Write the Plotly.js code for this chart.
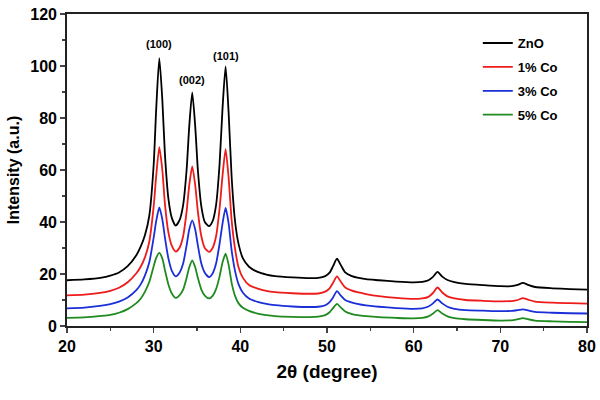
<!DOCTYPE html>
<html>
<head>
<meta charset="utf-8">
<script src="https://cdn.plot.ly/plotly-3.0.1.min.js"></script>
<style>
  body { margin: 0; background: #fff; }
  #chart { width: 600px; height: 400px; }
</style>
</head>
<body>
<div id="chart"></div>
<script>
// 2theta positions (denser around the peaks)
var twoTheta = [20, 22, 24, 25, 26, 27, 28, 28.5, 29, 29.5, 30, 30.3, 30.65, 31, 31.3, 31.7, 32.1, 32.55,
    33, 33.4, 33.8, 34.1, 34.45, 34.8, 35.1, 35.5, 35.9, 36.4, 36.8, 37.2, 37.6, 37.95, 38.3, 38.65,
    39, 39.4, 39.8, 40.3, 41, 42, 43, 44, 46, 48, 49, 49.8, 50.3, 50.7, 51.15, 51.6, 52.1, 52.8,
    53.5, 54.5, 56, 58, 60, 61, 61.7, 62.2, 62.75, 63.3, 63.9, 64.7, 66, 68, 70, 71.3, 72, 72.6,
    73.2, 74, 76, 78, 80];

var zno = [17.6, 17.9, 18.6, 19.4, 20.6, 23.0, 27.2, 30.5, 35.0, 42.5, 62, 84, 103, 87, 66, 49, 41.5, 38.6,
    40.8, 46.5, 60, 76.5, 89.8, 76.5, 60, 46, 40, 38.4, 40.3, 46.5, 62, 84, 99.8, 82,
    57, 40, 31.5, 26, 22.8, 20.8, 19.8, 19.2, 18.7, 18.4, 18.5, 19.2, 20.5, 23, 25.9, 23.4, 20.6, 19.3,
    18.6, 18.0, 17.6, 17.1, 16.8, 17.0, 17.6, 18.8, 20.8, 19.0, 17.7, 16.9, 16.2, 15.7, 15.3, 15.3, 15.8, 16.6,
    15.8, 15.0, 14.5, 14.2, 14.0];

var co1 = [11.8, 12.1, 12.8, 13.5, 14.7, 16.8, 20.3, 22.8, 26.5, 32.5, 46, 58, 68.8, 60, 47, 36, 30.8, 28.6,
    30.2, 34.5, 44, 54, 61.4, 54, 44, 34.5, 30, 28.5, 30, 34.5, 45, 58, 68.0, 57,
    40.5, 29.5, 22.5, 18.5, 15.8, 14.4, 13.5, 13.0, 12.6, 12.4, 12.5, 13.2, 14.5, 16.6, 19.1, 17.0, 14.8, 13.7,
    13.0, 12.3, 11.5, 10.8, 10.4, 10.6, 11.2, 12.6, 14.8, 12.9, 11.4, 10.6, 10.0, 9.7, 9.5, 9.6, 10.0, 10.7,
    10.1, 9.4, 9.0, 8.8, 8.6];

var co3 = [6.8, 7.1, 7.8, 8.4, 9.4, 11.0, 13.8, 16.0, 19.5, 24.5, 34, 40.5, 45.6, 41, 34, 26, 21.2, 19.1,
    20.6, 24, 31, 37, 40.6, 37, 31, 24, 20.5, 18.8, 20.2, 24, 31.5, 39.5, 45.4, 39.5,
    29, 21, 16, 12.8, 10.6, 9.3, 8.5, 8.0, 7.5, 7.3, 7.4, 8.0, 9.2, 11.0, 13.4, 11.7, 10.0, 9.1,
    8.5, 7.9, 7.4, 6.9, 6.6, 6.8, 7.5, 8.6, 10.2, 8.7, 7.4, 6.6, 6.1, 5.9, 5.7, 5.8, 6.1, 6.4,
    6.0, 5.4, 5.1, 4.9, 4.8];

var co5 = [3.1, 3.3, 3.9, 4.3, 5.1, 6.5, 8.8, 10.5, 13.2, 17, 23, 26.3, 28.1, 26, 21.5, 16, 12.5, 10.8,
    11.9, 14, 18.5, 22.5, 25.2, 22.5, 18.5, 14, 11.7, 10.6, 11.6, 14.2, 19, 24.5, 27.8, 23.5,
    16.5, 11.5, 8.7, 7.0, 5.8, 4.8, 4.2, 3.8, 3.5, 3.4, 3.6, 4.2, 5.3, 6.9, 8.5, 7.1, 5.6, 4.7,
    4.2, 3.8, 3.4, 3.1, 2.9, 3.1, 3.7, 4.7, 6.1, 4.8, 3.7, 3.0, 2.6, 2.3, 2.1, 2.2, 2.6, 3.0,
    2.6, 2.1, 1.8, 1.6, 1.5];

var seriesNames = ['ZnO', '1% Co', '3% Co', '5% Co'];
var seriesColors = ['#000000', '#ee1b1b', '#1b2fd8', '#1f8a1f'];

// Miller indices over the three main peaks
var peakLabels = ['(100)', '(002)', '(101)'];
var peakPos = [30.65, 34.45, 38.3];
var peakLabelY = [108.5, 94.8, 103.8];

var fontFam = 'Liberation Sans, Arial, sans-serif';

var allY = [zno, co1, co3, co5];
var data = [];
for (var i = 0; i < allY.length; i++) {
    data.push({
        x: twoTheta,
        y: allY[i],
        name: seriesNames[i],
        type: 'scatter',
        mode: 'lines',
        legendgroup: 'g' + i,
        line: { color: seriesColors[i], width: 1.8, shape: 'spline', smoothing: 0.6 }
    });
}

var notes = [];
for (var j = 0; j < peakLabels.length; j++) {
    notes.push({
        x: peakPos[j],
        y: peakLabelY[j],
        xref: 'x',
        yref: 'y',
        text: '<b>' + peakLabels[j] + '</b>',
        showarrow: false,
        font: { family: fontFam, size: 11, color: '#000' }
    });
}

var layout = {
    width: 600,
    height: 400,
    margin: { l: 67, r: 13, t: 14, b: 74, pad: 0 },
    paper_bgcolor: '#fff',
    plot_bgcolor: '#fff',
    font: { family: fontFam, color: '#000' },
    showlegend: true,
    legend: {
        x: 0.79,
        y: 0.955,
        xanchor: 'left',
        yanchor: 'top',
        traceorder: 'grouped',
        tracegroupgap: 4,
        bgcolor: 'rgba(0,0,0,0)',
        font: { family: fontFam, size: 13, color: '#000', weight: 'bold' }
    },
    xaxis: {
        range: [20, 80],
        dtick: 10,
        ticks: 'outside',
        ticklen: 5,
        tickwidth: 1.5,
        showgrid: false,
        zeroline: false,
        showline: true,
        mirror: true,
        linecolor: '#222',
        linewidth: 1.8,
        tickfont: { family: fontFam, size: 16, weight: 'bold' },
        minor: { dtick: 5, ticks: 'outside', ticklen: 3, tickwidth: 1.2, showgrid: false },
        title: { text: '<b>2θ (degree)</b>', font: { family: fontFam, size: 19 }, standoff: 11 }
    },
    yaxis: {
        range: [0, 120],
        dtick: 20,
        ticks: 'outside',
        ticklen: 5,
        tickwidth: 1.5,
        showgrid: false,
        zeroline: false,
        showline: true,
        mirror: true,
        linecolor: '#222',
        linewidth: 1.8,
        tickfont: { family: fontFam, size: 16, weight: 'bold' },
        minor: { dtick: 10, ticks: 'outside', ticklen: 3, tickwidth: 1.2, showgrid: false },
        title: { text: '<b>Intensity (a.u.)</b>', font: { family: fontFam, size: 16 }, standoff: 7 }
    },
    annotations: notes
};

Plotly.newPlot('chart', data, layout, { displayModeBar: false, staticPlot: true });
</script>
</body>
</html>
